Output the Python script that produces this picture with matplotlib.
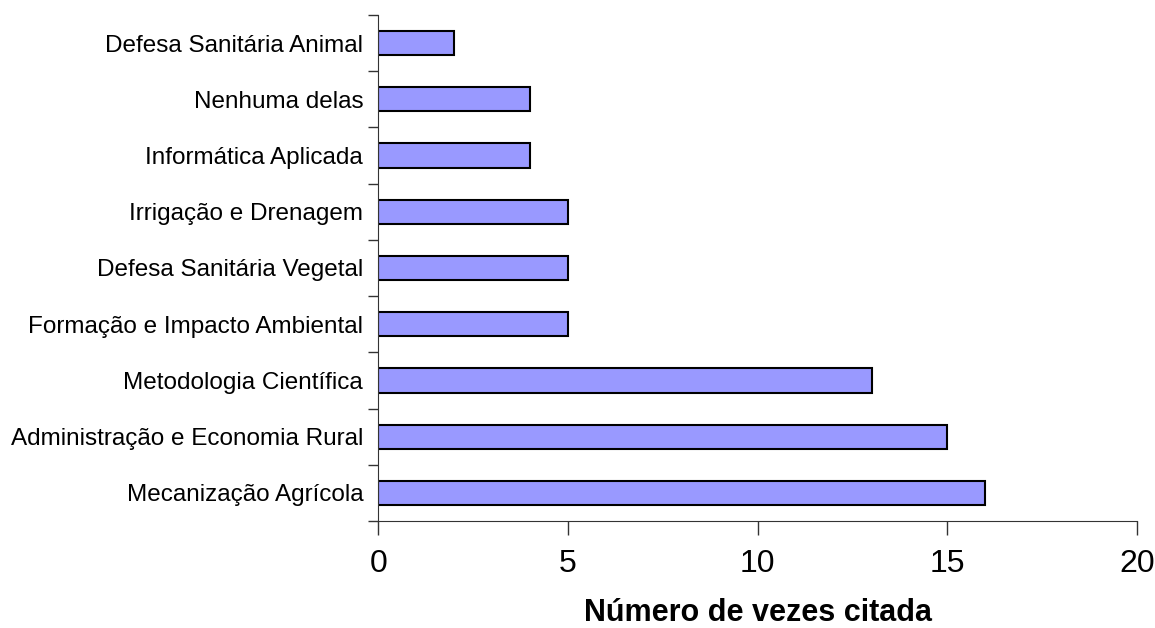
import matplotlib.pyplot as plt
import numpy as np

plt.rcParams['font.family'] = ['Liberation Sans', 'DejaVu Sans']

categories = [
    'Mecanização Agrícola',
    'Administração e Economia Rural',
    'Metodologia Científica',
    'Formação e Impacto Ambiental',
    'Defesa Sanitária Vegetal',
    'Irrigação e Drenagem',
    'Informática Aplicada',
    'Nenhuma delas',
    'Defesa Sanitária Animal',
]
counts = [16, 15, 13, 5, 5, 5, 4, 4, 2]
x_ticks = [0, 5, 10, 15, 20]

fig = plt.figure(figsize=(11.55, 6.28), dpi=100)
ax = fig.add_axes([0.3277, 0.1704, 0.9844 - 0.3277, 0.9761 - 0.1704])

y = np.arange(len(categories))
ax.barh(y, counts, height=0.43, color='#9999FF', edgecolor='black', linewidth=1.5)

ax.set_xlim(0, 20)
ax.set_ylim(-0.5, len(categories) - 0.5)
ax.set_xticks(x_ticks)
ax.set_xticklabels([str(t) for t in x_ticks], fontsize=23)
ax.tick_params(axis='x', direction='out', length=10, width=1, pad=10, color='#333333')

ax.set_yticks(y)
ax.set_yticklabels(categories, fontsize=17.5)
ax.set_yticks(np.arange(-0.5, len(categories)), minor=True)
ax.tick_params(axis='y', which='major', length=0, pad=11)
ax.tick_params(axis='y', which='minor', direction='out', length=7, width=1, color='#333333')

for side in ['top', 'right']:
    ax.spines[side].set_visible(False)
for side in ['left', 'bottom']:
    ax.spines[side].set_color('#333333')

ax.set_xlabel('Número de vezes citada', fontsize=22, fontweight='bold', labelpad=14)

fig.savefig('out.png', dpi=100)
